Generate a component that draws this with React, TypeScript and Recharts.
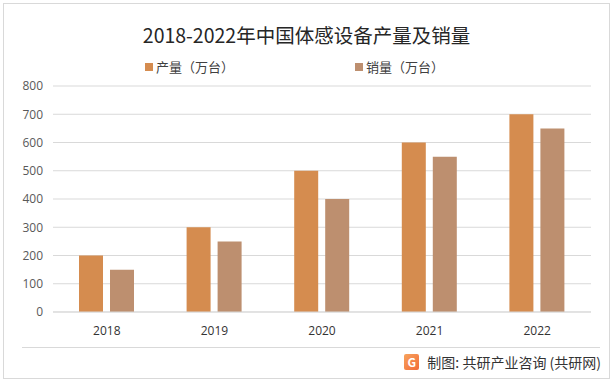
import { BarChart, Bar, XAxis, YAxis, CartesianGrid } from "recharts";

const years = ["2018", "2019", "2020", "2021", "2022"];
const output = [200, 300, 500, 600, 700];
const sales = [150, 250, 400, 550, 650];
const yTicks = [0, 100, 200, 300, 400, 500, 600, 700, 800];
const seriesNames = ["产量（万台）", "销量（万台）"];
const colors = ["#D58C4F", "#BD8F6F"];

const data = years.map((y, i) => ({ year: y, output: output[i], sales: sales[i] }));

const font = "'Noto Sans CJK SC', 'Noto Sans', sans-serif";

const App = () => {
  return (
    <div style={{ position: "absolute", left: 0, top: 0, width: 613, height: 383, background: "#fff", fontFamily: font }}>
      <div
        style={{
          position: "absolute",
          left: 3,
          top: 3,
          width: 605,
          height: 374,
          border: "1px solid #D9D9D9",
        }}
      />
      <div style={{ position: "absolute", top: 21, left: 0, width: 613, textAlign: "center", fontSize: 19.5, color: "#262626", lineHeight: "28px" }}>
        2018-2022年中国体感设备产量及销量
      </div>
      {seriesNames.map((n, i) => (
        <div
          key={n}
          style={{ position: "absolute", top: 58, left: i === 0 ? 145 : 355, fontSize: 13, color: "#404040", display: "flex", alignItems: "center", lineHeight: "18px" }}
        >
          <span style={{ display: "inline-block", width: 8, height: 8, background: colors[i], marginRight: 3 }} />
          {n}
        </div>
      ))}
      <div style={{ position: "absolute", left: 0, top: 0 }}>
        <BarChart width={613} height={383} data={data} margin={{ top: 86, right: 22, left: 0, bottom: 41 }} barGap={7} barSize={24}>
          <CartesianGrid vertical={false} stroke="#D9D9D9" />
          <XAxis
            dataKey="year"
            axisLine={{ stroke: "#D9D9D9" }}
            tickLine={false}
            height={30}
            tick={{ fontSize: 12, fill: "#333", fontFamily: "'Open Sans', sans-serif" }}
            tickMargin={8}
          />
          <YAxis
            width={53}
            domain={[0, 800]}
            ticks={yTicks}
            axisLine={false}
            tickLine={false}
            tick={{ fontSize: 12, fill: "#595959", fontFamily: "'Open Sans', sans-serif" }}
            tickMargin={4}
          />
          <Bar dataKey="output" name={seriesNames[0]} fill={colors[0]} isAnimationActive={false} />
          <Bar dataKey="sales" name={seriesNames[1]} fill={colors[1]} isAnimationActive={false} />
        </BarChart>
      </div>
      <div style={{ position: "absolute", left: 22, top: 347, width: 578, height: 1, background: "#D9D9D9" }} />
      <div style={{ position: "absolute", right: 12, top: 351, fontSize: 14, color: "#333", display: "flex", alignItems: "center", lineHeight: "22px" }}>
        <span
          style={{
            display: "inline-block",
            width: 15,
            height: 16,
            marginRight: 8,
            borderRadius: 2,
            background: "linear-gradient(135deg, #F7A35C, #F26B3A)",
            color: "#fff",
            fontSize: 12,
            fontWeight: 700,
            textAlign: "center",
            lineHeight: "16px",
          }}
        >
          G
        </span>
        制图: 共研产业咨询 (共研网)
      </div>
    </div>
  );
};

export default App;
